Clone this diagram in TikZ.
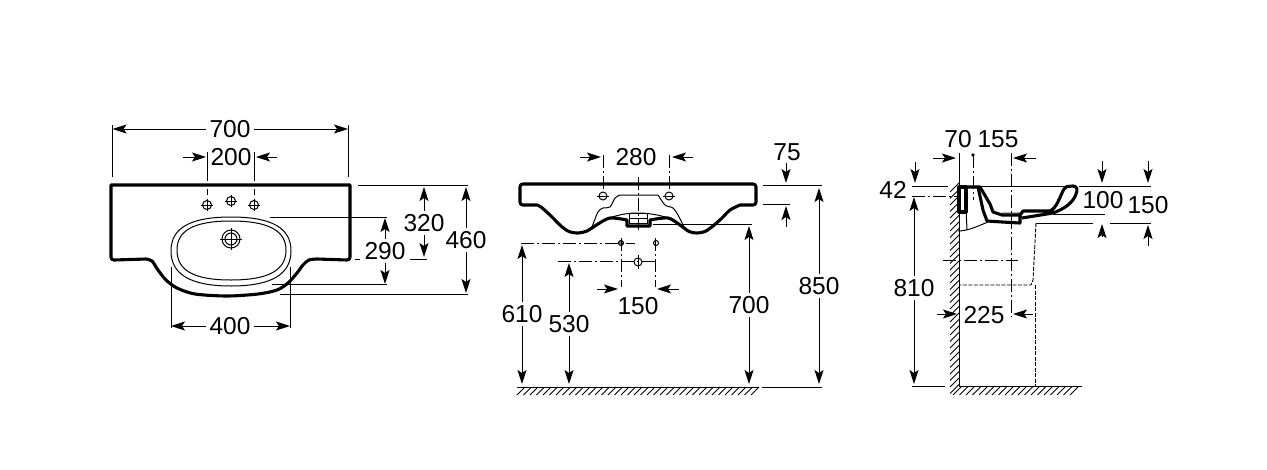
\documentclass[tikz,border=0pt]{standalone}
\usepackage{fontspec}
\setmainfont{Liberation Sans}
\usetikzlibrary{arrows.meta}
\tikzset{
  basin/.style={line width=3.1pt,line join=round},
  thinline/.style={line width=1pt},
  extline/.style={line width=1pt},
  axisline/.style={line width=.9pt,dash pattern=on 13pt off 3pt on 2pt off 3pt},
  hiddenline/.style={line width=.9pt,dash pattern=on 4pt off 1.5pt},
  dimline/.style={line width=1pt,-{Stealth[length=14pt,width=9pt,inset=3pt]}},
  dimtext/.style={font=\fontsize{24.5}{24.5}\selectfont,inner sep=3pt},
  hatchline/.style={line width=.8pt},
}
\begin{document}
\begin{tikzpicture}[x=1pt,y=-1pt]
    \useasboundingbox (0,0) rectangle (1267,469);
    % top view
    \draw[basin] (111,185) -- (111,257) .. controls (111,259) and (112,260) .. (114,260) -- (146,259)
      -- plot[smooth] coordinates {(146,259) (152,261) (158,270) (166,280) (177,288) (195,294) (227,296) (258,294) (277,290) (288,283) (297,273) (303,265) (309,260) (317,259)}
      -- (347,260) .. controls (349,260) and (350,259) .. (350,257) -- (350,185) -- cycle;
    \draw[thinline] (171,251) .. controls (171,228) and (190,217) .. (231,217) .. controls (272,217) and (291,228) .. (291,251) .. controls (291,274) and (272,286) .. (231,286) .. controls (190,286) and (171,274) .. (171,251) -- cycle;
    \draw[thinline] (177,250) .. controls (177,231) and (193,221) .. (231,221) .. controls (269,221) and (286,231) .. (286,250) .. controls (286,270) and (269,280) .. (231,280) .. controls (193,280) and (177,270) .. (177,250) -- cycle;
    \draw[thinline] (231,239) circle[radius=9pt] (231,239) circle[radius=6pt];
    \draw[thinline] (220,239) -- (242,239) (231,228) -- (231,250);
    \foreach \x/\y in {207/205,231/201,254/205} {
      \draw[thinline] (\x,\y) circle[radius=4.5pt];
      \draw[thinline] (\x-6,\y) -- (\x+6,\y) (\x,\y-6) -- (\x,\y+6);
    }
    \node[dimtext] (topwidth) at (230,129) {700};
    \node[dimtext] (tapspan) at (231,157) {200};
    \node[dimtext] (bowlwidth) at (230,326) {400};
    \node[dimtext] (bowlback) at (424,223) {320};
    \node[dimtext] (bowldepth) at (385,251) {290};
    \node[dimtext] (topdepth) at (466,240) {460};
    \coordinate (W) at (112.5,129);
    \coordinate (E) at (348,129);
    \coordinate (TL) at (183,157);
    \coordinate (TLa) at (206,157);
    \coordinate (TR) at (277,157);
    \coordinate (TRa) at (256,157);
    \coordinate (BW) at (171,326);
    \coordinate (BE) at (290,326);
    \draw[dimline] (topwidth) -- (W);
    \draw[dimline] (topwidth) -- (E);
    \draw[dimline] (TL) -- (TLa);
    \draw[dimline] (TR) -- (TRa);
    \draw[dimline] (bowlwidth) -- (BW);
    \draw[dimline] (bowlwidth) -- (BE);
    \draw[dimline] (bowlback) -- (424,187);
    \draw[dimline] (bowlback) -- (424,257);
    \draw[dimline] (bowldepth) -- (385,218);
    \draw[dimline] (bowldepth) -- (385,284);
    \draw[dimline] (topdepth) -- (466,187);
    \draw[dimline] (topdepth) -- (466,293);
    \draw[extline] (112.5,125) -- (112.5,177) (348,125) -- (348,177);
    \draw[extline] (207,152) -- (207,168) (254,152) -- (254,168);
    \draw[axisline] (207,168) -- (207,195);
    \draw[axisline] (254,168) -- (254,195);
    \draw[extline] (171,267) -- (171,328) (290,267) -- (290,328);
    \draw[extline] (358,185) -- (468,185);
    \draw[extline] (355,259) -- (360,259) (410,259) -- (427,259);
    \draw[extline] (270,217) -- (387,217) (272,284) -- (387,284);
    \draw[extline] (280,294) -- (468,294);
    % front view
    \draw[basin] (523,184) -- (753,184) .. controls (755,184) and (756,185) .. (756,187) -- (756,202) .. controls (756,204) and (755,205) .. (753,205) -- (740,205)
      -- plot[smooth] coordinates {(740,205) (730,210) (722,218) (713,226) (705,231.5) (697,233) (689,231.5) (680,225) (668,218) (650,220)}
      -- (650,226) -- (627,226) -- (627,220)
      -- plot[smooth] coordinates {(627,220) (610,218) (598,224) (587,231) (578,233) (569,231.5) (561,226) (550,215) (541,207) (537,205)}
      -- (523,205) .. controls (521,205) and (520,204) .. (520,202) -- (520,187) .. controls (520,185) and (521,184) .. (523,184) -- cycle;
    \draw[thinline] (592,227) -- plot[smooth] coordinates {(592,227) (598,212) (603,208) (610,207) (615,198) (620,195)} -- (658,195) -- plot[smooth] coordinates {(658,195) (665,205) (673,208) (678,215) (684,227)};
    \draw[thinline] (610,218) .. controls (620,214) and (630,213) .. (638,213) .. controls (648,213) and (660,215) .. (668,218);
    \draw[thinline] (629,213.5) rectangle (647,223) (629,218) -- (647,218);
    \foreach \x in {603,669} {
      \draw[thinline] (\x,196) circle[radius=4pt];
    }
    \draw[thinline] (597,196) -- (609,196) (663,196) -- (675,196);
    \filldraw[thinline,fill=gray] (621,243) circle[radius=2.5pt];
    \draw[thinline] (656,243) circle[radius=2.5pt];
    \draw[thinline] (638,262) circle[radius=4pt];
    \draw[thinline] (638,255) -- (638,269);
    \draw[axisline] (603,155) -- (603,192);
    \draw[axisline] (669,155) -- (669,192);
    \draw[axisline] (638,177) -- (638,230);
    \draw[axisline] (521,243) -- (635,243);
    \draw[axisline] (558,261) -- (656,261);
    \draw[axisline] (621,238) -- (621,287);
    \draw[axisline] (655,238) -- (655,287);
    \node[dimtext] (tapfront) at (636,157) {280};
    \node[dimtext] (rimheight) at (787,152) {75};
    \node[dimtext] (totalheight) at (819,286) {850};
    \node[dimtext] (wastefront) at (749,305) {700};
    \node[dimtext] (pipehigh) at (522,314) {610};
    \node[dimtext] (pipelow) at (569,324) {530};
    \node[dimtext] (pipespan) at (638,306) {150};
    \coordinate (FL) at (580,157);
    \coordinate (FLa) at (601,157);
    \coordinate (FR) at (693,157);
    \coordinate (FRa) at (672,157);
    \coordinate (PL) at (597,289);
    \coordinate (PLa) at (618,289);
    \coordinate (PR) at (679,289);
    \coordinate (PRa) at (657,289);
    \draw[dimline] (FL) -- (FLa);
    \draw[dimline] (FR) -- (FRa);
    \draw[dimline] (PL) -- (PLa);
    \draw[dimline] (PR) -- (PRa);
    \draw[dimline] (786,163) -- (786,183);
    \draw[dimline] (786,227) -- (786,206);
    \draw[dimline] (totalheight) -- (819,188);
    \draw[dimline] (totalheight) -- (819,384);
    \draw[dimline] (wastefront) -- (749,226);
    \draw[dimline] (wastefront) -- (749,384);
    \draw[dimline] (pipehigh) -- (522,245);
    \draw[dimline] (pipehigh) -- (522,384);
    \draw[dimline] (pipelow) -- (569,263);
    \draw[dimline] (pipelow) -- (569,384);
    \draw[extline] (763,185) -- (822,185) (763,204) -- (790,204);
    \draw[extline] (762,387) -- (822,387);
    \draw[extline] (653,224) -- (752,224);
    \draw[thinline] (517,387) -- (759,387);
    \foreach \x in {517,523.5,...,752} {
      \draw[hatchline] (\x,395) -- ++(8,-8);
    }
    % side view
    \draw[thinline] (959,153) -- (959,386) -- (1082,386);
    \foreach \y in {184,190.5,...,388} {
      \draw[hatchline] (950,\y+8) -- ++(9,-9);
    }
    \foreach \x in {953,959.5,...,1076} {
      \draw[hatchline] (\x,395) -- ++(8,-8);
    }
    \draw[fill=gray!60,draw=none] (1002,212) rectangle (1020,216);
    \draw[basin] (959,187) rectangle (966,212);
    \draw[basin] (966,187) -- (980,187) -- (990,204) -- (993,212) -- (1002,215) -- (1020,215);
    \draw[basin] (978,187) -- (983,210) -- (987,221) -- (1002,222) -- (1020,223) -- (1020,215) -- (1023,211) -- (1050,211) .. controls (1057,208) and (1060,196) .. (1064,189) -- (1067,186.5) -- (1073,186) .. controls (1077,186) and (1078,190) .. (1076,194) .. controls (1073,203) and (1064,209) .. (1053,213) -- (1022,218);
    \draw[thinline] (959,186) -- (1077,186);
    \draw[thinline] (965,187) -- (967,230);
    \draw[thinline] (958,231) .. controls (968,231) and (978,226) .. (988,222);
    \fill (973,155) circle[radius=1.8pt];
    \draw[axisline] (973,155) -- (973,200);
    \draw[axisline] (1011,153) -- (1011,317);
    \draw[axisline] (912,196) -- (958,196);
    \draw[axisline] (943,260) -- (1018,260);
    \draw[hiddenline] (1036,223) -- (1033,280) -- (1031,285) -- (959,285);
    \draw[hiddenline] (1035,285) -- (1035,386);
    \node[dimtext] (wallgap) at (958,139) {70};
    \node[dimtext] (sidedepth) at (998,139) {155};
    \node[dimtext] (rimside) at (893,190) {42};
    \node[dimtext] (sideheight) at (914,288) {810};
    \node[dimtext] (pedestal) at (984,315) {225};
    \node[dimtext] (inbowl) at (1103,200) {100};
    \node[dimtext] (outbowl) at (1148,205) {150};
    \coordinate (SL) at (933,158);
    \coordinate (SLa) at (956,158);
    \coordinate (SR) at (1036,158);
    \coordinate (SRa) at (1013,158);
    \coordinate (QL) at (937,314);
    \coordinate (QLa) at (957,314);
    \coordinate (QR) at (1033,314);
    \coordinate (QRa) at (1013,314);
    \draw[dimline] (SL) -- (SLa);
    \draw[dimline] (SR) -- (SRa);
    \draw[dimline] (QL) -- (QLa);
    \draw[dimline] (QR) -- (QRa);
    \draw[dimline] (915,162) -- (915,183);
    \draw[dimline] (sideheight) -- (914,197);
    \draw[dimline] (sideheight) -- (914,384);
    \draw[dimline] (1102,161) -- (1102,183);
    \draw[dimline] (1102,237) -- (1102,224);
    \draw[dimline] (1148,161) -- (1148,183);
    \draw[dimline] (1148,246) -- (1148,225);
    \draw[extline] (912,186) -- (948,186);
    \draw[extline] (912,386) -- (945,386);
    \draw[extline] (1079,186) -- (1151,186);
    \draw[extline] (1053,214) -- (1105,214);
    \draw[extline] (1036,223) -- (1093,223) (1110,223) -- (1151,223);
\end{tikzpicture}
\end{document}
